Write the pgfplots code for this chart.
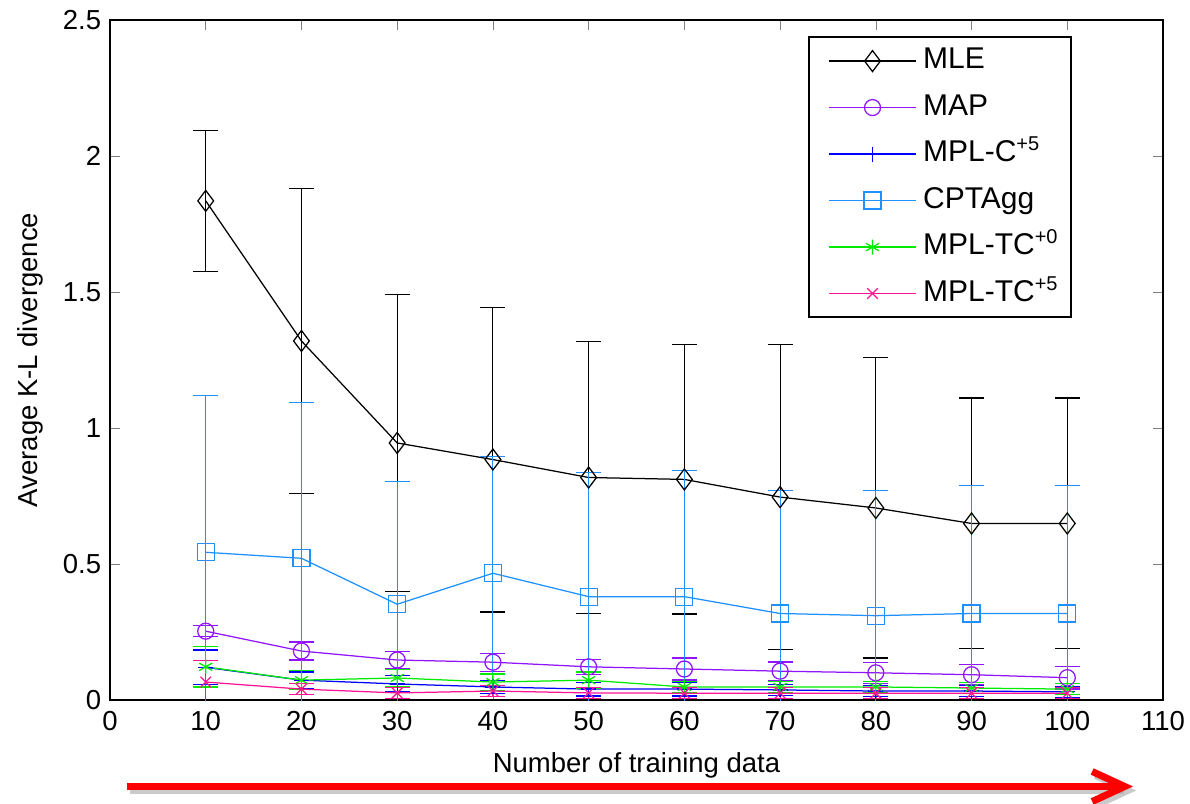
\documentclass[border=0pt]{standalone}
\usepackage{fontspec}
\setmainfont{Liberation Sans}
\usepackage{pgfplots}
\usepackage{pgfplotstable}
\pgfplotsset{compat=1.18}
\usetikzlibrary{arrows.meta}

\definecolor{MapC}{RGB}{145,20,255}
\definecolor{MplC}{RGB}{0,0,255}
\definecolor{CptC}{RGB}{30,144,255}
\definecolor{TcZero}{RGB}{0,235,0}
\definecolor{TcFive}{RGB}{255,20,147}
\definecolor{ArrowRed}{RGB}{255,0,0}

% x, mean, error
\pgfplotstableread{
x   y      e
10  1.835  0.260
20  1.320  0.560
30  0.945  0.545
40  0.884  0.560
50  0.818  0.500
60  0.811  0.495
70  0.746  0.560
80  0.706  0.552
90  0.649  0.461
100 0.649  0.461
}\mle
\pgfplotstableread{
x   y      e
10  0.253  0.020
20  0.180  0.033
30  0.147  0.032
40  0.139  0.033
50  0.122  0.028
60  0.114  0.040
70  0.106  0.034
80  0.100  0.038
90  0.093  0.037
100 0.082  0.042
}\map
\pgfplotstableread{
x   y      e
10  0.120  0.064
20  0.073  0.030
30  0.059  0.030
40  0.048  0.025
50  0.040  0.025
60  0.040  0.025
70  0.037  0.020
80  0.033  0.020
90  0.033  0.020
100 0.030  0.020
}\mplc
\pgfplotstableread{
x   y      e
10  0.543  0.576
20  0.521  0.573
30  0.352  0.450
40  0.466  0.430
50  0.380  0.456
60  0.380  0.464
70  0.318  0.452
80  0.310  0.460
90  0.318  0.471
100 0.318  0.471
}\cpt
\pgfplotstableread{
x   y      e
10  0.122  0.074
20  0.073  0.035
30  0.081  0.030
40  0.066  0.030
50  0.073  0.030
60  0.048  0.020
70  0.048  0.020
80  0.048  0.020
90  0.044  0.020
100 0.040  0.020
}\tczero
\pgfplotstableread{
x   y      e
10  0.066  0.080
20  0.040  0.020
30  0.026  0.020
40  0.033  0.020
50  0.026  0.020
60  0.025  0.020
70  0.025  0.020
80  0.025  0.020
90  0.025  0.020
100 0.025  0.020
}\tcfive

\begin{document}
\begin{tikzpicture}
\useasboundingbox (-44pt,-41.2pt) rectangle (432pt,280pt);
\begin{axis}[
    at={(0,0)}, anchor=south west,
    scale only axis, width=421.2pt, height=272pt,
    xmin=0, xmax=110, ymin=0, ymax=2.5,
    xtick={0,10,...,110}, ytick={0,0.5,1,1.5,2,2.5},
    tick align=inside, major tick length=4pt,
    axis line style={line width=0.7pt},
    /pgf/number format/assume math mode=true,
    tick label style={font=\fontsize{11}{13}\selectfont},
    xticklabel style={yshift=-1pt},
    xlabel={Number of training data},
    ylabel={Average K-L divergence},
    label style={font=\fontsize{11}{13}\selectfont},
    xlabel style={at={(axis description cs:0.5,0)}, anchor=base, yshift=-28.8pt},
    ylabel style={at={(axis description cs:-0.076,0.5)}, anchor=center},
    legend style={at={(0.663,0.976)}, anchor=north west, draw=black, line width=0.8pt,
        font=\fontsize{12}{14}\selectfont, inner xsep=5pt, inner ysep=3.5pt,
        row sep=6.6pt, column sep=2.5pt,
        nodes={inner sep=0pt, text height=9pt, text depth=3pt}},
    legend cell align=left,
    legend image code/.code={\path (-2.6pt,0pt);
        \draw[line width=0.5pt, mark repeat=2, mark phase=2, #1]
        plot coordinates {(0pt,0pt) (17.5pt,0pt) (35pt,0pt)};},
    every axis plot/.append style={line width=0.5pt, mark options={solid}},
    error bars/y dir=both, error bars/y explicit,
    error bars/error mark options={rotate=90, mark size=5pt, line width=0.5pt},
]
\addplot[black, mark=diamond, mark size=4.2pt] table[x=x, y=y, y error=e] {\mle};
\addlegendentry{MLE}
\addplot[MapC, mark=o, mark size=3.2pt] table[x=x, y=y, y error=e] {\map};
\addlegendentry{MAP}
\addplot[MplC, mark=+, mark size=3pt] table[x=x, y=y, y error=e] {\mplc};
\addlegendentry{MPL-C\textsuperscript{+5}}
\addplot[CptC, mark=square, mark size=3.4pt] table[x=x, y=y, y error=e] {\cpt};
\addlegendentry{CPTAgg}
\addplot[TcZero, mark=asterisk, mark size=3pt] table[x=x, y=y, y error=e] {\tczero};
\addlegendentry{MPL-TC\textsuperscript{+0}}
\addplot[TcFive, mark=x, mark size=3pt] table[x=x, y=y, y error=e] {\tcfive};
\addlegendentry{MPL-TC\textsuperscript{+5}}
\end{axis}
\draw[black!35, opacity=0.6, line width=2.8pt, -{Straight Barb[length=13pt, width=12pt]}]
    (8pt,-36.2pt) -- (410.5pt,-36.2pt);
\draw[ArrowRed, line width=2.8pt, -{Straight Barb[length=13pt, width=12pt]}]
    (6.8pt,-34.6pt) -- (409.2pt,-34.6pt);
\end{tikzpicture}
\end{document}
